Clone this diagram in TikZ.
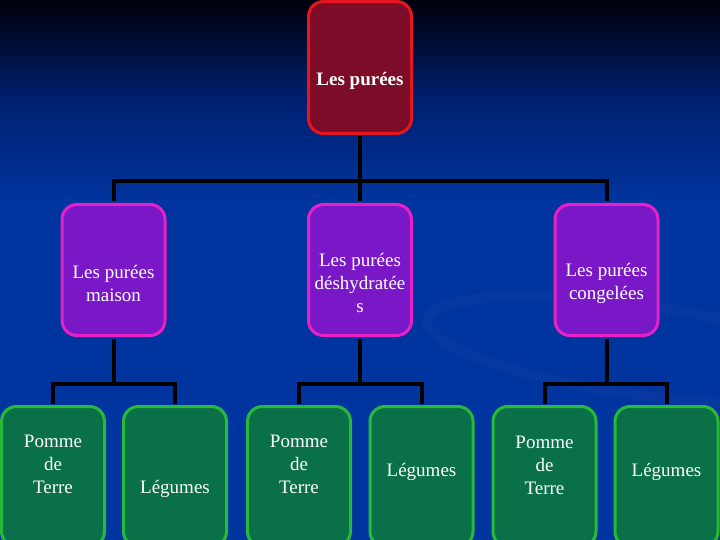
\documentclass[tikz,border=0pt]{standalone}
\usepackage{fontspec}
\setmainfont{Liberation Serif}
\definecolor{bgtop}{RGB}{0,0,10}
\definecolor{bgmid}{RGB}{0,32,112}
\definecolor{bgbot}{RGB}{0,52,158}
\definecolor{redfill}{RGB}{125,12,40}
\definecolor{redline}{RGB}{230,22,30}
\definecolor{violetfill}{RGB}{122,24,200}
\definecolor{violetline}{RGB}{232,32,200}
\definecolor{greenfill}{RGB}{10,112,72}
\definecolor{greenline}{RGB}{40,184,58}

\begin{document}
\begin{tikzpicture}[x=1pt,y=-1pt,
    box/.style={draw,line width=3pt,rounded corners=15pt,
      minimum width=103pt,inner sep=0pt},
    topbox/.style={box,draw=redline,fill=redfill,minimum height=132pt},
    midbox/.style={box,draw=violetline,fill=violetfill,minimum height=131pt},
    lowbox/.style={box,draw=greenline,fill=greenfill,minimum height=140pt},
    txt/.style={text=white,align=center,inner sep=0pt,
      font=\fontsize{19}{23}\selectfont},
    link/.style={line width=4pt,black,shorten <=1.5pt,shorten >=1.5pt}]
  \useasboundingbox (0,0) rectangle (720,540);
  \clip (0,0) rectangle (720,540);

  % fond
  \shade[top color=bgtop,bottom color=bgmid] (0,0) rectangle (720,100);
  \shade[top color=bgmid,bottom color=bgbot] (0,100) rectangle (720,200);
  \fill[bgbot] (0,200) rectangle (720,540);
  \draw[line width=10pt,white,opacity=0.025,rotate around={-8:(640,350)}]
    (640,350) ellipse (215 and 45);

  % boites
  \node[topbox] (puree) at (360,67.5) {};
  \node[midbox] (maison) at (113.5,270) {};
  \node[midbox] (deshy) at (360,270) {};
  \node[midbox] (congel) at (606.5,270) {};
  \node[lowbox] (pdtA) at (53,476.5) {};
  \node[lowbox] (legA) at (175,476.5) {};
  \node[lowbox] (pdtB) at (299,476.5) {};
  \node[lowbox] (legB) at (421.5,476.5) {};
  \node[lowbox] (pdtC) at (544.5,476.5) {};
  \node[lowbox] (legC) at (666.5,476.5) {};

  % textes
  \node[txt,font=\fontsize{19}{23}\bfseries] (tpuree) at (360,81) {Les purées};
  \node[txt] (tmaison) at (113.5,283) {Les purées\\maison};
  \node[txt] (tdeshy) at (360,283) {Les purées\\déshydratée\\s};
  \node[txt] (tcongel) at (606.5,283) {Les purées\\congelées};
  \node[txt] (tpdtA) at (53,464) {Pomme\\de\\Terre};
  \node[txt] (tlegA) at (175,489) {Légumes};
  \node[txt] (tpdtB) at (299,464) {Pomme\\de\\Terre};
  \node[txt] (tlegB) at (421.5,472) {Légumes};
  \node[txt] (tpdtC) at (544.5,465) {Pomme\\de\\Terre};
  \node[txt] (tlegC) at (666.5,472) {Légumes};

  % liaisons
  \draw[link,shorten >=0pt] (puree.south) -- ++(0,46.5) coordinate (busA);
  \foreach \n in {maison,deshy,congel}
    \draw[link,shorten <=0pt] (busA) -| (\n.north);
  \foreach \m/\a/\b in {maison/pdtA/legA,deshy/pdtB/legB,congel/pdtC/legC}{
    \draw[link,shorten >=0pt] (\m.south) -- ++(0,47) coordinate (bus\m);
    \draw[link,shorten <=0pt] (bus\m) -| (\a.north);
    \draw[link,shorten <=0pt] (bus\m) -| (\b.north);
  }
\end{tikzpicture}
\end{document}
